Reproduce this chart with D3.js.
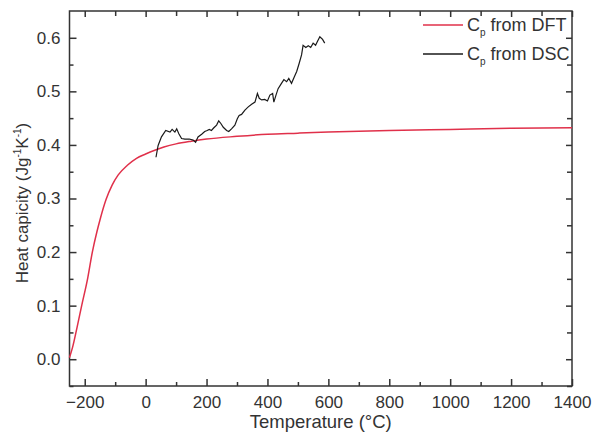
<!DOCTYPE html>
<html>
<head>
<meta charset="utf-8">
<script src="https://cdn.jsdelivr.net/npm/d3@7"></script>
<style>
  body { margin: 0; background: #fff; }
  svg { font-family: "Liberation Sans", Arial, sans-serif; }
</style>
</head>
<body>
<svg id="chart" width="593" height="439"></svg>
<script>
// Cp from DFT (red)
const dftT  = [-250, -240, -225, -210, -190, -175, -160, -150, -130, -110, -90, -60, -30, 0, 30, 60, 100, 150, 200, 300, 400, 500, 600, 800, 1000, 1200, 1400];
const dftCp = [0.003, 0.022, 0.06, 0.10, 0.152, 0.20, 0.238, 0.26, 0.298, 0.325, 0.344, 0.362, 0.375, 0.383, 0.39, 0.396, 0.402, 0.407, 0.411, 0.416, 0.42, 0.422, 0.424, 0.427, 0.429, 0.431, 0.432];

// Cp from DSC (black)
const dscT  = [34, 41, 52, 66, 80, 87, 96, 102, 109, 118, 129, 143, 156, 164, 172, 184, 194, 202, 209, 216, 224, 233, 240, 247, 255, 266, 273, 282, 293, 301, 307, 315, 326, 337, 348, 359, 367, 373, 381, 391, 400, 408, 417, 421, 428, 435, 446, 454, 463, 470, 479, 488, 496, 504, 512, 517, 526, 534, 542, 550, 558, 564, 572, 581, 588];
const dscCp = [0.377, 0.399, 0.415, 0.427, 0.424, 0.429, 0.424, 0.43, 0.421, 0.412, 0.411, 0.411, 0.409, 0.405, 0.415, 0.42, 0.425, 0.427, 0.429, 0.427, 0.432, 0.437, 0.445, 0.44, 0.433, 0.427, 0.425, 0.43, 0.437, 0.449, 0.455, 0.457, 0.465, 0.471, 0.476, 0.48, 0.496, 0.487, 0.484, 0.485, 0.482, 0.493, 0.496, 0.48, 0.493, 0.505, 0.515, 0.522, 0.518, 0.524, 0.515, 0.527, 0.537, 0.552, 0.568, 0.586, 0.582, 0.585, 0.582, 0.59, 0.586, 0.593, 0.602, 0.597, 0.59];

const xTicks = [-200, 0, 200, 400, 600, 800, 1000, 1200, 1400];
const yTicks = [0.0, 0.1, 0.2, 0.3, 0.4, 0.5, 0.6];

const svg = d3.select("#chart");
const pl = 69.5, pr = 572, pt = 11, pb = 386;
const ink = "#333";

const x = d3.scaleLinear().domain([-250, 1400]).range([pl, pr]);
const y = d3.scaleLinear().domain([-0.05, 0.65]).range([pb, pt]);

const xMinor = d3.range(-200, 1400, 100).filter(v => v % 200 !== 0);
const yMinor = d3.range(-0.05, 0.65, 0.1).map(v => +v.toFixed(2));

function styleAxis(g) {
  g.select(".domain").remove();
  g.selectAll("line").attr("stroke", ink).attr("stroke-width", 1.5);
  g.selectAll("text").attr("fill", ink).attr("font-size", "17px");
}

// bottom
svg.append("g").attr("transform", `translate(0,${pb})`)
  .call(d3.axisBottom(x).tickValues(xTicks).tickSize(-7).tickPadding(10).tickFormat(d3.format("d")))
  .call(styleAxis);
svg.append("g").attr("transform", `translate(0,${pb})`)
  .call(d3.axisBottom(x).tickValues(xMinor).tickSize(-4).tickFormat(""))
  .call(styleAxis);
// top
svg.append("g").attr("transform", `translate(0,${pt})`)
  .call(d3.axisTop(x).tickValues(xTicks).tickSize(-6).tickFormat(""))
  .call(styleAxis);
svg.append("g").attr("transform", `translate(0,${pt})`)
  .call(d3.axisTop(x).tickValues(xMinor).tickSize(-5).tickFormat(""))
  .call(styleAxis);
// left
svg.append("g").attr("transform", `translate(${pl},0)`)
  .call(d3.axisLeft(y).tickValues(yTicks).tickSize(-7).tickPadding(9).tickFormat(d3.format(".1f")))
  .call(styleAxis);
svg.append("g").attr("transform", `translate(${pl},0)`)
  .call(d3.axisLeft(y).tickValues(yMinor).tickSize(-4).tickFormat(""))
  .call(styleAxis);
// right
svg.append("g").attr("transform", `translate(${pr},0)`)
  .call(d3.axisRight(y).tickValues(yTicks).tickSize(-6).tickFormat(""))
  .call(styleAxis);
svg.append("g").attr("transform", `translate(${pr},0)`)
  .call(d3.axisRight(y).tickValues(yMinor).tickSize(-5).tickFormat(""))
  .call(styleAxis);

// frame
svg.append("rect")
  .attr("x", pl).attr("y", pt)
  .attr("width", pr - pl).attr("height", pb - pt)
  .attr("fill", "none").attr("stroke", ink).attr("stroke-width", 1.5);

svg.append("path")
  .datum(dftT.map((t, i) => [t, dftCp[i]]))
  .attr("d", d3.line().x(d => x(d[0])).y(d => y(d[1])).curve(d3.curveMonotoneX))
  .attr("fill", "none").attr("stroke", "#e0304a").attr("stroke-width", 1.5);

svg.append("path")
  .datum(dscT.map((t, i) => [t, dscCp[i]]))
  .attr("d", d3.line().x(d => x(d[0])).y(d => y(d[1])))
  .attr("fill", "none").attr("stroke", "#1a1a1a").attr("stroke-width", 1.2);

// legend
const legend = [
  { name: "from DFT", color: "#e0304a" },
  { name: "from DSC", color: "#1a1a1a" }
];
legend.forEach((d, i) => {
  const g = svg.append("g").attr("transform", `translate(423,${25 + i * 29})`);
  g.append("line").attr("x1", 0).attr("x2", 40).attr("y1", 0).attr("y2", 0)
    .attr("stroke", d.color).attr("stroke-width", 1.3);
  const t = g.append("text").attr("x", 44).attr("y", 6)
    .attr("fill", ink).attr("font-size", "18px");
  t.append("tspan").text("C");
  t.append("tspan").attr("font-size", "10px").attr("dy", 5).text("p");
  t.append("tspan").attr("dy", -5).text(" " + d.name);
});

// axis titles
svg.append("text")
  .attr("x", (pl + pr) / 2).attr("y", 428)
  .attr("text-anchor", "middle").attr("fill", ink).attr("font-size", "18.5px")
  .text("Temperature (°C)");

const yt = svg.append("text")
  .attr("transform", `translate(28,203) rotate(-90)`)
  .attr("text-anchor", "middle").attr("fill", ink).attr("font-size", "17px");
yt.append("tspan").text("Heat capicity (Jg");
yt.append("tspan").attr("font-size", "10px").attr("dy", -7).text("-1");
yt.append("tspan").attr("dy", 7).text("K");
yt.append("tspan").attr("font-size", "10px").attr("dy", -7).text("-1");
yt.append("tspan").attr("dy", 7).text(")");
</script>
</body>
</html>
